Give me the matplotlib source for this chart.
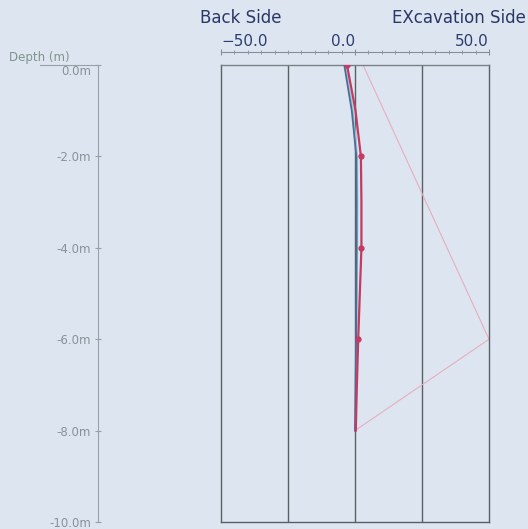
import matplotlib.pyplot as plt
import numpy as np

# depth (m) and wall displacement (mm)
depth = [0, -1, -2, -3, -4, -5, -6, -7, -8]
disp_measured = [-3.0, 0.2, 2.2, 2.4, 2.4, 1.8, 1.2, 0.7, 0.3]
disp_calc = [-4.0, -1.2, 0.5, 0.6, 0.6, 0.5, 0.4, 0.2, 0.0]
disp_prev = [-3.5, -0.7, 0.9, 1.0, 0.9, 0.8, 0.6, 0.3, 0.1]

# earth pressure outline
ep_depth = [0, -6, -8]
ep_value = [3, 50, 0]

depth_ticks = [0, -2, -4, -6, -8, -10]
top_ticks = [-50, 0, 50]
grid_x = [-25, 0, 25]

bg = '#dde6f0'
W, H = 528, 529
fig = plt.figure(figsize=(W / 100, H / 100), dpi=100, facecolor=bg)

def fx(px):
    return px / W

def fy(py):
    return 1 - py / H

# main displacement plot
ax = fig.add_axes([fx(221), fy(522), fx(489) - fx(221), fy(65) - fy(522)])
ax.set_facecolor(bg)
ax.set_xlim(-50, 50)
ax.set_ylim(-10, 0)
for g in grid_x:
    ax.axvline(g, color='#5a5f66', lw=1.0, zorder=1)
for s in ax.spines.values():
    s.set_color('#5a5f66')
    s.set_linewidth(1.0)
ax.spines['top'].set_color('#7a8088')
ax.set_xticks([])
ax.set_yticks([])

ax.plot(ep_value, ep_depth, color='#e8adc0', lw=0.8, zorder=2)
ax.plot(disp_prev, depth, color='#8fd0da', lw=1.0, zorder=3)
ax.plot(disp_calc, depth, color='#4f6b96', lw=1.3, zorder=4)
ax.plot(disp_measured, depth, color='#c43a62', lw=1.6, zorder=5,
        marker='o', markersize=3.5, markevery=[0, 2, 4, 6])

# top scale
sec = ax.secondary_xaxis(1 + 13 / 457)
sec.spines['top'].set_color('#8a8f96')
sec.set_xticks(top_ticks)
sec.set_xticklabels([f'{v:.1f}'.replace('-', '\u2212') for v in top_ticks])
sec.xaxis.set_minor_locator(plt.MultipleLocator(5))
sec.tick_params(axis='x', which='major', direction='inout', length=5,
                color='#8a8f96', labelsize=11, labelcolor='#2f3d6e', pad=0)
sec.tick_params(axis='x', which='minor', direction='inout', length=3,
                color='#8a8f96')
lbls = sec.get_xticklabels()
lbls[0].set_ha('left')
lbls[1].set_ha('right')
lbls[2].set_ha('right')

fig.text(fx(200), fy(18), 'Back Side', fontsize=12, color='#2a3766',
         va='center', ha='left')
fig.text(fx(526), fy(18), 'EXcavation Side', fontsize=12, color='#2a3766',
         va='center', ha='right')

# depth scale
axd = fig.add_axes([fx(40), fy(522), fx(98) - fx(40), fy(65) - fy(522)])
axd.patch.set_visible(False)
axd.set_ylim(-10, 0)
axd.set_xticks([])
axd.spines['bottom'].set_visible(False)
axd.spines['right'].set_visible(False)
axd.spines['left'].set_position(('axes', 1.0))
axd.spines['left'].set_color('#9aa0a8')
axd.spines['top'].set_color('#9aa0a8')
axd.set_yticks(depth_ticks)
axd.set_yticklabels([f'{v:.1f}m' for v in depth_ticks])
axd.tick_params(axis='y', direction='inout', length=4, color='#9aa0a8',
                labelsize=8.5, labelcolor='#8a9098', pad=3)
axd.get_yticklabels()[0].set_va('top')

fig.text(fx(9), fy(57), 'Depth (m)', fontsize=8.5, color='#7f948a',
         va='center', ha='left')

fig.savefig('out.png', dpi=100, facecolor=bg)
